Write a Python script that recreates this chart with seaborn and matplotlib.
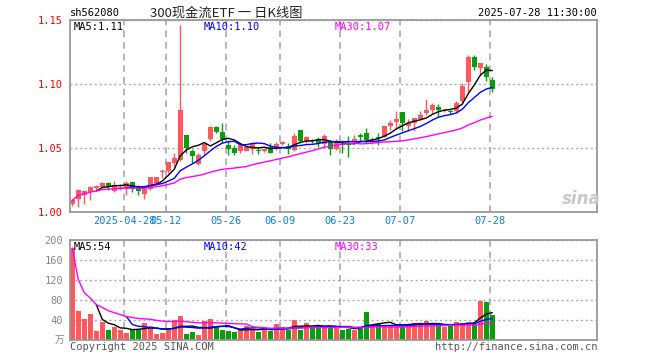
import matplotlib
matplotlib.use("Agg")
import matplotlib.pyplot as plt
import numpy as np
import pandas as pd
import seaborn as sns

sns.set_theme(style="white")
plt.rcParams["font.family"] = ["DejaVu Sans Mono", "Noto Sans CJK SC"]

# daily OHLC of sh562080 (71 sessions)
opens = [1.006, 1.010, 1.0135, 1.0156, 1.019, 1.0198, 1.0224, 1.0167, 1.0177, 1.0182,
         1.0234, 1.0203, 1.0141, 1.0177, 1.0214, 1.031, 1.0323, 1.0385, 1.0406, 1.0599,
         1.0474, 1.0375, 1.0479, 1.0568, 1.0661, 1.0625, 1.0526, 1.050, 1.0479, 1.0479,
         1.049, 1.048, 1.0474, 1.051, 1.0495, 1.0531, 1.0516, 1.0484, 1.0641, 1.0552,
         1.0557, 1.0568, 1.0531, 1.0547, 1.0495, 1.0526, 1.053, 1.0547, 1.0604, 1.0615,
         1.056, 1.058, 1.0589, 1.0672, 1.0703, 1.0781, 1.0672, 1.0698, 1.0724, 1.0771,
         1.0797, 1.0823, 1.0786, 1.0783, 1.0786, 1.0865, 1.1016, 1.1208, 1.1125, 1.1135,
         1.1031]
highs = [1.010, 1.018, 1.0172, 1.020, 1.021, 1.0234, 1.0234, 1.024, 1.022, 1.0245,
         1.0234, 1.021, 1.0203, 1.0276, 1.0276, 1.0333, 1.039, 1.0458, 1.1464, 1.060,
         1.049, 1.0458, 1.0542, 1.0672, 1.0672, 1.0693, 1.0563, 1.052, 1.0531, 1.0516,
         1.0542, 1.0505, 1.0495, 1.0536, 1.0547, 1.0557, 1.0542, 1.0615, 1.0641, 1.0594,
         1.0568, 1.0583, 1.061, 1.0563, 1.0568, 1.0563, 1.0594, 1.0604, 1.062, 1.066,
         1.0589, 1.062, 1.0672, 1.0719, 1.0786, 1.0781, 1.0724, 1.0734, 1.0792, 1.0885,
         1.0854, 1.0844, 1.0807, 1.0797, 1.0865, 1.101, 1.1229, 1.1224, 1.1161, 1.1156,
         1.1052]
lows = [1.005, 1.004, 1.006, 1.0094, 1.017, 1.0188, 1.0172, 1.0156, 1.0172, 1.0135,
        1.0156, 1.013, 1.0104, 1.0172, 1.0208, 1.0266, 1.0307, 1.0354, 1.0401, 1.0464,
        1.038, 1.037, 1.0448, 1.0557, 1.0615, 1.0536, 1.0448, 1.0448, 1.0464, 1.0474,
        1.0453, 1.0453, 1.0469, 1.0458, 1.0484, 1.0521, 1.0453, 1.0479, 1.054, 1.0536,
        1.0536, 1.051, 1.051, 1.0448, 1.0484, 1.0458, 1.0432, 1.0542, 1.055, 1.0536,
        1.053, 1.052, 1.0583, 1.064, 1.0656, 1.0635, 1.0635, 1.063, 1.0719, 1.076,
        1.0766, 1.0745, 1.078, 1.0766, 1.078, 1.0849, 1.0938, 1.111, 1.1068, 1.1021,
        1.0938]
closes = [1.009, 1.017, 1.0167, 1.0193, 1.020, 1.0229, 1.0198, 1.0208, 1.0198, 1.0229,
          1.0182, 1.0167, 1.0182, 1.0271, 1.0276, 1.0313, 1.039, 1.0422, 1.0797, 1.050,
          1.0438, 1.0448, 1.0531, 1.0661, 1.0625, 1.0568, 1.0495, 1.0464, 1.0521, 1.051,
          1.0531, 1.0479, 1.049, 1.0464, 1.0531, 1.0547, 1.049, 1.0594, 1.0557, 1.0583,
          1.0552, 1.0542, 1.0594, 1.0495, 1.0547, 1.0521, 1.0525, 1.0573, 1.0583, 1.0563,
          1.0568, 1.0578, 1.0672, 1.0698, 1.0729, 1.0693, 1.0693, 1.0734, 1.0755, 1.0797,
          1.0833, 1.0797, 1.0797, 1.0781, 1.0854, 1.0984, 1.1208, 1.1135, 1.1161, 1.1057,
          1.0964]
# volume in 10k shares
volumes = [184, 58, 42, 52, 18, 36, 20, 27, 20, 14,
           23, 23, 34, 28, 12, 14, 23, 40, 48, 12,
           16, 10, 38, 42, 26, 20, 18, 16, 20, 28,
           23, 16, 22, 18, 32, 26, 20, 40, 20, 34,
           26, 26, 30, 24, 28, 20, 22, 21, 23, 56,
           30, 32, 30, 29, 31, 28, 29, 34, 32, 38,
           32, 28, 26, 29, 37, 35, 37, 33, 78, 76, 50]

tick_idx = [9, 16, 26, 35, 45, 55, 70]
tick_labels = ["2025-04-28", "05-12", "05-26", "06-09", "06-23", "07-07", "07-28"]

RED = "#fa5a5a"
GREEN = "#0a9e0a"
GRID = "#aaaaaa"
W, H = 660, 360

df = pd.DataFrame({"open": opens, "high": highs, "low": lows, "close": closes, "vol": volumes})
df["idx"] = np.arange(len(df))
df["dir"] = np.where(df["close"] >= df["open"], "up", "down")
df["color"] = np.where(df["dir"] == "up", RED, GREEN)
for name, n, mp in [("ma5", 5, 5), ("ma10", 10, 10), ("ma30", 30, 1)]:
    df[name] = df["close"].rolling(n, min_periods=mp).mean()
    df["v" + name] = df["vol"].rolling(n, min_periods=mp).mean()

fig = plt.figure(figsize=(6.6, 3.6), dpi=100)
ax = fig.add_axes([70 / W, 1 - 212 / H, 527 / W, 192 / H])
axv = fig.add_axes([70 / W, 1 - 340 / H, 527 / W, 100 / H])

# candles
ax.vlines(df["idx"], df["low"], df["high"], colors=df["color"], linewidth=1)
body = (df["close"] - df["open"]).abs().clip(lower=0.0007)
ax.bar(df["idx"], body, bottom=df[["open", "close"]].min(axis=1), width=0.75,
       color=df["color"], linewidth=0)

ma_colors = {"ma5": "black", "ma10": "#0000ff", "ma30": "#ff00ff"}
for name, c in ma_colors.items():
    sns.lineplot(data=df, x="idx", y=name, color=c, linewidth=1, ax=ax)
    sns.lineplot(data=df, x="idx", y="v" + name, color=c, linewidth=1, ax=axv)

sns.barplot(data=df, x="idx", y="vol", hue="dir", palette={"up": RED, "down": GREEN},
            native_scale=True, dodge=False, width=0.75, errorbar=None, legend=False,
            saturation=1, linewidth=0, ax=axv, zorder=1)

xpos = [i - 0.35 for i in tick_idx]
for a in (ax, axv):
    a.set_xlim(-0.38, 87.45)
    a.set_xticks(xpos)
    a.set_xlabel("")
    a.set_ylabel("")
    a.xaxis.grid(True, color=GRID, linestyle=(0, (4, 3)), linewidth=1.2)
    a.yaxis.grid(True, color=GRID, linestyle=(0, (1.5, 2)), linewidth=1)
    a.set_axisbelow(True)
    a.tick_params(length=0, pad=5)
    for s in a.spines.values():
        s.set_color("#999999")
        s.set_linewidth(1.3)

ax.set_ylim(1.0, 1.15)
ax.set_yticks([1.00, 1.05, 1.10, 1.15])
ax.set_yticklabels(["1.00", "1.05", "1.10", "1.15"], color="red", fontsize=7.5)
ax.set_xticklabels(tick_labels, color="#0a82d2", fontsize=7.5)
ax.tick_params(axis="x", pad=3)

axv.set_ylim(0, 200)
axv.set_yticks([40, 80, 120, 160, 200])
axv.set_yticklabels(["40", "80", "120", "160", "200"], color="#888888", fontsize=7.5)
axv.set_xticklabels([])


def put(x, y, s, **kw):
    fig.text(x / W, 1 - y / H, s, va="center", **kw)


put(70, 13, "sh562080", fontsize=7.5, color="black")
put(226, 13, "300现金流ETF 一 日K线图", ha="center", fontsize=9.5, color="#222222",
    family=["Noto Sans CJK SC", "DejaVu Sans"])
put(597, 13, "2025-07-28 11:30:00", ha="right", fontsize=7.5, color="black")

put(74, 27, "MA5:1.11", fontsize=7.5, color="black")
put(204, 27, "MA10:1.10", fontsize=7.5, color="#0000ff")
put(335, 27, "MA30:1.07", fontsize=7.5, color="#ff00ff")
put(74, 247, "MA5:54", fontsize=7.5, color="black")
put(204, 247, "MA10:42", fontsize=7.5, color="#0000ff")
put(335, 247, "MA30:33", fontsize=7.5, color="#ff00ff")

put(64, 340, "万", ha="right", fontsize=7, color="#888888",
    family=["Noto Sans CJK SC", "DejaVu Sans"])
put(70, 347, "Copyright 2025 SINA.COM", fontsize=7.5, color="#555555")
put(597, 347, "http://finance.sina.com.cn", ha="right", fontsize=7.5, color="#555555")
put(581, 199, "sina", ha="center", fontsize=12, color="#c8c8c8", style="italic",
    weight="bold", family="DejaVu Sans")

fig.savefig("out.png", dpi=100)
